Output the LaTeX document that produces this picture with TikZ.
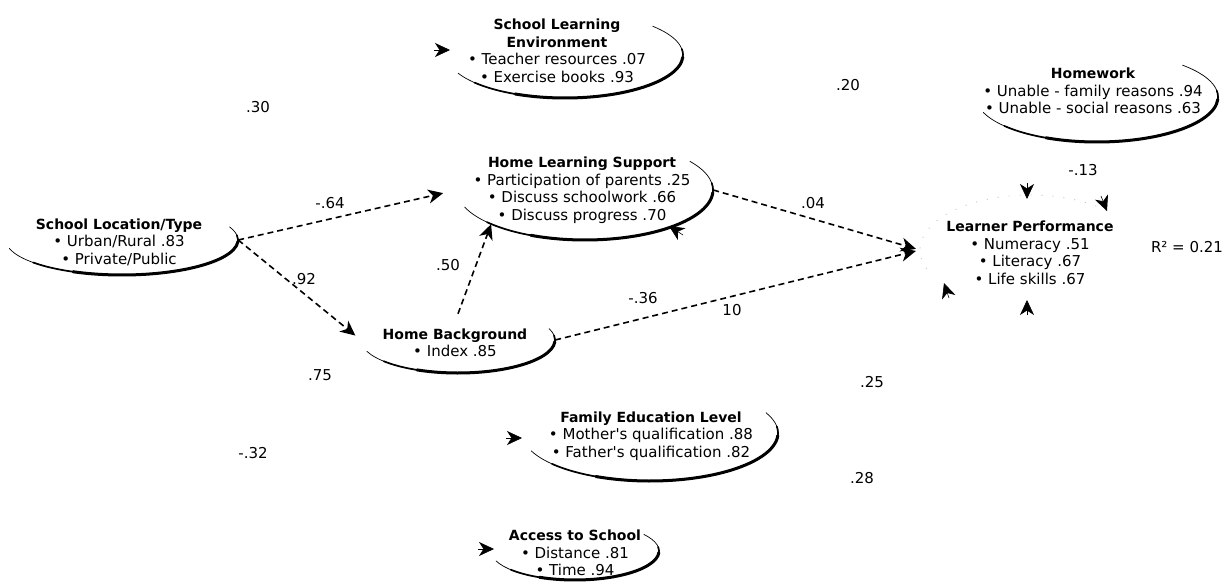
\documentclass[tikz,border=0pt]{standalone}
\usepackage{fontspec}
\setmainfont{DejaVu Sans}
\usetikzlibrary{arrows.meta,shapes.geometric}

% construct outlines: thin open arc with a heavier lower-right rim
\newcommand\ovalrim[5]{%
  \draw[line width=0.7pt,line cap=round] ([shift={(#4:#2 and #3)}]#1.center)
     arc[start angle=#4,end angle=#5,x radius=#2,y radius=#3];
  \draw[line width=1.7pt,line cap=round] ([shift={(140:#2 and #3)}]#1.center)
     arc[start angle=140,end angle=-8,x radius=#2,y radius=#3];
  \draw[line width=3pt,line cap=round] ([shift={(115:#2 and #3)}]#1.center)
     arc[start angle=115,end angle=3,x radius=#2,y radius=#3];
}
\newcommand\ttl[1]{{\fontsize{14}{17.5}\selectfont\bfseries #1}}

\tikzset{
  latent/.style={ellipse,draw=none,inner sep=0pt},
  txt/.style={align=center,font=\fontsize{15}{17.5}\selectfont,inner sep=0pt},
  coef/.style={font=\fontsize{15}{17.5}\selectfont,inner sep=0pt},
  tipshape/.style={-{Stealth[length=15pt,width=14pt,inset=4.5pt]}},
  link/.style={tipshape,line width=1.6pt,dash pattern=on 6pt off 4pt},
  tiponly/.style={tipshape,line width=0.6pt}
}

\begin{document}
\begin{tikzpicture}[x=1pt,y=-1pt]
\useasboundingbox (0,0) rectangle (1224,586);
\fill[white] (0,0) rectangle (1224,586);

% latent constructs
\node[latent,minimum width=232pt,minimum height=70pt]  (slt) at (122,240) {};
\node[latent,minimum width=236pt,minimum height=86pt]  (sle) at (565,55)  {};
\node[latent,minimum width=256pt,minimum height=100pt] (hls) at (585,190) {};
\node[latent,minimum width=194pt,minimum height=66pt]  (hb)  at (458,340) {};
\node[latent,minimum width=242pt,minimum height=90pt]  (hw)  at (1097,97) {};
\node[latent,minimum width=220pt,minimum height=110pt] (lp)  at (1030,250) {};
\node[latent,minimum width=256pt,minimum height=96pt]  (fel) at (650,433) {};
\node[latent,minimum width=168pt,minimum height=58pt]  (ats) at (575,551) {};

\ovalrim{slt}{116}{35}{166}{-22}
\ovalrim{sle}{118}{43}{155}{-42}
\ovalrim{hls}{128}{50}{160}{-35}
\ovalrim{hb}{97}{33}{160}{-20}
\ovalrim{hw}{121}{45}{160}{-45}
\ovalrim{fel}{128}{48}{158}{-25}
\ovalrim{ats}{84}{29}{160}{-35}
\draw[gray!45,line width=0.9pt,dash pattern=on 1pt off 10pt]
  ([shift={(160:110 and 55)}]lp.center) arc[start angle=160,end angle=320,x radius=110,y radius=55];

% construct labels and indicators
\node[txt] (slt-t) at (119,242) {\ttl{School Location/Type}\\• Urban/Rural .83\\• Private/Public};
\node[txt] (sle-t) at (557,51)  {\ttl{School Learning}\\\ttl{Environment}\\• Teacher resources .07\\• Exercise books .93};
\node[txt] (hls-t) at (582,190) {\ttl{Home Learning Support}\\• Participation of parents .25\\• Discuss schoolwork .66\\• Discuss progress .70};
\node[txt] (hb-t)  at (455,343) {\ttl{Home Background}\\• Index .85};
\node[txt] (hw-t)  at (1093,91) {\ttl{Homework}\\• Unable - family reasons .94\\• Unable - social reasons .63};
\node[txt] (lp-t)  at (1030,253) {\ttl{Learner Performance}\\• Numeracy .51\\• Literacy .67\\• Life skills .67};
\node[txt] (fel-t) at (651,436) {\ttl{Family Education Level}\\• Mother\textquotesingle s qualification .88\\• Father\textquotesingle s qualification .82};
\node[txt] (ats-t) at (575,553) {\ttl{Access to School}\\• Distance .81\\• Time .94};

% structural paths
\draw[link,shorten >=14pt] (slt.east) -- (hls.west);
\draw[link,shorten >=7pt]  (slt.east) -- (hb.west);
\draw[link] ([yshift=-7pt]hb.north) -- (hls.200);
\draw[link,shorten >=4pt]  (hls.east) -- (lp.west);
\draw[link,shorten >=4pt]  (hb.east)  -- (lp.west);

% path coefficients
\node[coef] (c1)  at (330,203) {-.64};
\node[coef] (c2)  at (304,279) {.92};
\node[coef] (c3)  at (448,265) {.50};
\node[coef] (c4)  at (813,203) {.04};
\node[coef] (c5)  at (643,298) {-.36};
\node[coef] (c6)  at (732,310) {10};
\node[coef] (c7)  at (320,375) {.75};
\node[coef] (c8)  at (258,107) {.30};
\node[coef] (c9)  at (848,85)  {.20};
\node[coef] (c10) at (872,382) {.25};
\node[coef] (c11) at (862,478) {.28};
\node[coef] (c12) at (253,453) {-.32};
\node[coef] (c13) at (1083,170) {-.13};
\node[coef] (r2)  at (1187,247) {R² = 0.21};

% arrow heads of the remaining paths
\coordinate (a1s) at (434,50);   \coordinate (a1e) at (450,50);
\coordinate (a2s) at (506,438);  \coordinate (a2e) at (522,438);
\coordinate (a3s) at (478,549);  \coordinate (a3e) at (494,549);
\coordinate (a4s) at (683,235);  \coordinate (a4e) at (669,226);
\coordinate (a5s) at (1027,183); \coordinate (a5e) at (1027,199);
\coordinate (a6s) at (1101,196); \coordinate (a6e) at (1107,211);
\coordinate (a7s) at (949,298);  \coordinate (a7e) at (944,283);
\coordinate (a8s) at (1027,315); \coordinate (a8e) at (1027,300);
\foreach \k in {1,...,8} {\draw[tiponly] (a\k s) -- (a\k e);}
\end{tikzpicture}
\end{document}
